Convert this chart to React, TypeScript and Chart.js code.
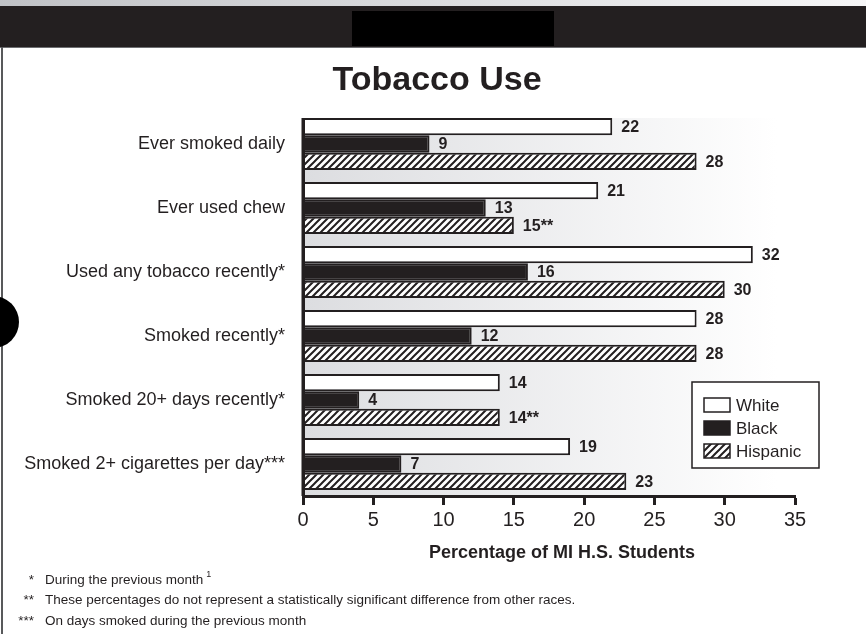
import { useEffect, useRef } from "react";
import { Chart, registerables } from "chart.js";

Chart.register(...registerables);

const categories = [
  "Ever smoked daily",
  "Ever used chew",
  "Used any tobacco recently*",
  "Smoked recently*",
  "Smoked 20+ days recently*",
  "Smoked 2+ cigarettes per day***",
];
const seriesNames = ["White", "Black", "Hispanic"];
const whiteValues = [22, 21, 32, 28, 14, 19];
const blackValues = [9, 13, 16, 12, 4, 7];
const hispanicValues = [28, 15, 30, 28, 14, 23];
const whiteNotes = ["", "", "", "", "", ""];
const blackNotes = ["", "", "", "", "", ""];
const hispanicNotes = ["", "**", "", "", "**", ""];
const xMin = 0;
const xMax = 35;
const xStep = 5;
const chartTitle = "Tobacco Use";
const xTitle = "Percentage of MI H.S. Students";
const footnoteMarks = ["*", "**", "***"];
const footnoteTexts = [
  "During the previous month",
  "These percentages do not represent a statistically significant difference from other races.",
  "On days smoked during the previous month",
];
const footnoteSups = ["1", "", ""];

const DARK = "#231f20";
const FONT = '"Liberation Sans", Arial, Helvetica, sans-serif';

function makeHatch(): CanvasPattern | string {
  const s = 7;
  const c = document.createElement("canvas");
  c.width = s;
  c.height = s;
  const g = c.getContext("2d");
  if (!g) return "#fff";
  g.fillStyle = "#fff";
  g.fillRect(0, 0, s, s);
  g.strokeStyle = DARK;
  g.lineWidth = 2;
  g.beginPath();
  g.moveTo(-1, s + 1);
  g.lineTo(s + 1, -1);
  g.moveTo(-1, 1);
  g.lineTo(1, -1);
  g.moveTo(s - 1, s + 1);
  g.lineTo(s + 1, s - 1);
  g.stroke();
  const p = g.createPattern(c, "repeat");
  return p || "#fff";
}

export default function App() {
  const ref = useRef<HTMLCanvasElement | null>(null);

  useEffect(() => {
    const canvas = ref.current;
    if (!canvas) return;
    const hatch = makeHatch();
    const notes = [whiteNotes, blackNotes, hispanicNotes];

    const bgPlugin = {
      id: "bgGradient",
      beforeDraw(chart: any) {
        const { ctx, chartArea } = chart;
        const meta = chart.getDatasetMeta(0);
        const el: any = meta.data[0];
        const top = el ? el.y - el.height / 2 : chartArea.top;
        const right = chartArea.right - 18;
        const grad = ctx.createLinearGradient(chartArea.left, 0, right, 0);
        grad.addColorStop(0, "#dcdde0");
        grad.addColorStop(1, "#ffffff");
        ctx.save();
        ctx.fillStyle = grad;
        ctx.fillRect(chartArea.left, top, right - chartArea.left, chartArea.bottom - top);
        ctx.restore();
      },
      afterDatasetsDraw(chart: any) {
        const { ctx, chartArea } = chart;
        const meta = chart.getDatasetMeta(0);
        const el: any = meta.data[0];
        const top = el ? el.y - el.height / 2 : chartArea.top;
        ctx.save();
        // y axis line
        ctx.fillStyle = DARK;
        ctx.fillRect(chartArea.left - 1.5, top, 3.5, chartArea.bottom - top);
        // value labels
        ctx.font = `bold 16px ${FONT}`;
        ctx.textAlign = "left";
        ctx.textBaseline = "middle";
        chart.data.datasets.forEach((ds: any, di: number) => {
          const m = chart.getDatasetMeta(di);
          m.data.forEach((bar: any, i: number) => {
            const txt = String(ds.data[i]) + notes[di][i];
            ctx.fillText(txt, bar.x + 9, bar.y + 1);
          });
        });
        ctx.restore();
      },
      afterDraw(chart: any) {
        const { ctx, chartArea } = chart;
        const bx = chartArea.right - 103;
        const by = chartArea.bottom - 114;
        const bw = 127;
        const bh = 86;
        ctx.save();
        ctx.fillStyle = "#fff";
        ctx.fillRect(bx, by, bw, bh);
        ctx.strokeStyle = DARK;
        ctx.lineWidth = 1.5;
        ctx.strokeRect(bx, by, bw, bh);
        ctx.font = `17px ${FONT}`;
        ctx.textAlign = "left";
        ctx.textBaseline = "middle";
        chart.data.datasets.forEach((ds: any, i: number) => {
          const cy = by + 23 + i * 23;
          ctx.fillStyle = ds.backgroundColor;
          ctx.fillRect(bx + 12, cy - 7, 26, 14);
          ctx.strokeStyle = DARK;
          ctx.lineWidth = 1.5;
          ctx.strokeRect(bx + 12, cy - 7, 26, 14);
          ctx.fillStyle = DARK;
          ctx.fillText(ds.label, bx + 44, cy + 1);
        });
        ctx.restore();
      },
    };

    const chart = new Chart(canvas, {
      type: "bar",
      data: {
        labels: categories,
        datasets: [
          {
            label: seriesNames[0],
            data: whiteValues,
            backgroundColor: "#ffffff",
            borderColor: DARK,
            borderWidth: 2,
            categoryPercentage: 0.8125,
            barPercentage: 1,
          },
          {
            label: seriesNames[1],
            data: blackValues,
            backgroundColor: DARK,
            borderColor: DARK,
            borderWidth: 2,
            categoryPercentage: 0.8125,
            barPercentage: 1,
          },
          {
            label: seriesNames[2],
            data: hispanicValues,
            backgroundColor: hatch as any,
            borderColor: DARK,
            borderWidth: 2,
            categoryPercentage: 0.8125,
            barPercentage: 1,
          },
        ],
      },
      options: {
        indexAxis: "y",
        responsive: false,
        animation: false,
        devicePixelRatio: 1,
        layout: { padding: { left: 0, right: 71, top: 112, bottom: 0 } },
        plugins: {
          legend: { display: false },
          tooltip: { enabled: false },
          title: { display: false },
        },
        scales: {
          x: {
            min: xMin,
            max: xMax,
            ticks: {
              stepSize: xStep,
              color: DARK,
              padding: 3,
              font: { size: 20, family: FONT },
            },
            grid: {
              drawOnChartArea: false,
              drawTicks: true,
              tickLength: 9,
              tickWidth: 3,
              tickColor: DARK,
            },
            border: { display: true, color: DARK, width: 3 },
            afterFit: (s: any) => {
              s.height = 138;
            },
          },
          y: {
            ticks: {
              color: DARK,
              padding: 18,
              font: { size: 18, family: FONT },
            },
            grid: { display: false, drawTicks: false },
            border: { display: false },
            afterFit: (s: any) => {
              s.width = 303;
            },
          },
        },
      },
      plugins: [bgPlugin],
    });

    return () => chart.destroy();
  }, []);

  const textBase = (size: number, baseline: number) => baseline - 0.8465 * size;

  return (
    <div
      style={{
        position: "fixed",
        left: 0,
        top: 0,
        width: 866,
        height: 634,
        overflow: "hidden",
        background: "#fff",
        fontFamily: FONT,
        color: DARK,
      }}
    >
      <canvas ref={ref} width={866} height={634} style={{ position: "absolute", left: 0, top: 0, display: "block" }} />
      {/* frame decorations */}
      <div
        style={{
          position: "absolute",
          left: 0,
          top: 0,
          width: 866,
          height: 6,
          background: "linear-gradient(to right, #c0c2c6, #f6f6f7)",
        }}
      />
      <div style={{ position: "absolute", left: 0, top: 6, width: 866, height: 41, background: DARK }} />
      <div style={{ position: "absolute", left: 0, top: 47, width: 866, height: 1, background: "#6d6e71" }} />
      <div style={{ position: "absolute", left: 352, top: 11, width: 202, height: 35, background: "#000" }} />
      <div style={{ position: "absolute", left: 1, top: 47, width: 2, height: 587, background: "#58595b" }} />
      <div
        style={{
          position: "absolute",
          left: -33,
          top: 296,
          width: 52,
          height: 52,
          borderRadius: "50%",
          background: "#000",
        }}
      />
      {/* title */}
      <div
        style={{
          position: "absolute",
          left: 437,
          top: textBase(34, 90),
          transform: "translateX(-50%)",
          fontSize: 34,
          lineHeight: 1,
          fontWeight: "bold",
          whiteSpace: "nowrap",
        }}
      >
        {chartTitle}
      </div>
      {/* x title */}
      <div
        style={{
          position: "absolute",
          left: 562,
          top: textBase(18, 558),
          transform: "translateX(-50%)",
          fontSize: 18,
          lineHeight: 1,
          fontWeight: "bold",
          whiteSpace: "nowrap",
        }}
      >
        {xTitle}
      </div>
      {/* footnotes */}
      {footnoteTexts.map((t, i) => (
        <div key={i}>
          <div
            style={{
              position: "absolute",
              left: 0,
              width: 34,
              textAlign: "right",
              top: textBase(13.5, 584 + i * 20.5),
              fontSize: 13.5,
              lineHeight: 1,
              whiteSpace: "nowrap",
            }}
          >
            {footnoteMarks[i]}
          </div>
          <div
            style={{
              position: "absolute",
              left: 45,
              top: textBase(13.5, 584 + i * 20.5),
              fontSize: 13.5,
              lineHeight: 1,
              whiteSpace: "nowrap",
            }}
          >
            {t}
            {footnoteSups[i] ? (
              <span style={{ fontSize: 9, verticalAlign: "top", marginLeft: 3, position: "relative", top: -3 }}>
                {footnoteSups[i]}
              </span>
            ) : null}
          </div>
        </div>
      ))}
    </div>
  );
}
